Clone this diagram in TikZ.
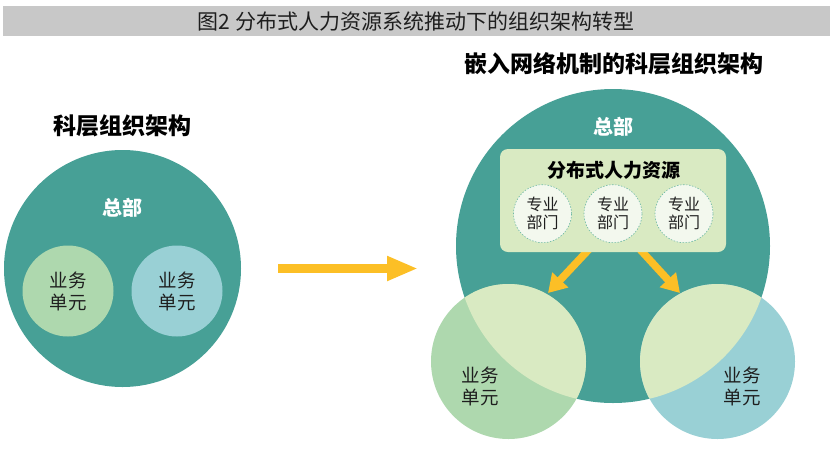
\documentclass[tikz,border=0pt]{standalone}
\usepackage{fontspec}
\setmainfont{Noto Sans CJK SC}
\usetikzlibrary{arrows.meta}
\definecolor{tealc}{RGB}{71,160,150}
\definecolor{lgreenc}{RGB}{217,234,194}
\definecolor{greenc}{RGB}{174,216,174}
\definecolor{bluec}{RGB}{153,208,213}
\definecolor{palec}{RGB}{243,248,238}
\definecolor{dashc}{RGB}{110,185,165}
\definecolor{arrowc}{RGB}{252,191,38}
\definecolor{barc}{RGB}{200,200,200}
\definecolor{txtc}{RGB}{30,30,30}
\tikzset{
  headtitle/.style={font=\bfseries\fontsize{23}{25}\selectfont, text=black, inner sep=0pt},
  hqtext/.style={font=\bfseries\fontsize{20}{22}\selectfont, text=white, inner sep=0pt},
  bucircle/.style={circle, inner sep=0pt, minimum size=#1, align=center,
    font=\fontsize{18.5}{22}\selectfont, text=txtc},
  butext/.style={align=center, inner sep=0pt, font=\fontsize{18.5}{22}\selectfont, text=txtc},
  deptcircle/.style={circle, inner sep=0pt, minimum size=58pt, align=center,
    fill=palec, draw=dashc, line width=0.6pt, dash pattern=on 1.5pt off 1.5pt,
    font=\fontsize{16}{18}\selectfont, text=txtc},
  bigarrow/.style={draw=arrowc, line width=9pt, -{Triangle[width=23pt,length=31pt,fill=arrowc]}},
  smallarrow/.style={draw=arrowc, line width=7.5pt, -{Triangle[width=21pt,length=18pt,fill=arrowc]}},
}
\begin{document}
\begin{tikzpicture}[x=1pt,y=-1pt]
\useasboundingbox (0,0) rectangle (836,459);
% title bar
\fill[barc] (3,6) rectangle (830,36);
\node[font=\fontsize{21}{23}\selectfont, text=txtc, inner sep=0pt] (title) at (416,22) {图2 分布式人力资源系统推动下的组织架构转型};

% left structure
\node[headtitle] (lt) at (122,126) {科层组织架构};
\node[circle, fill=tealc, minimum size=237pt, inner sep=0pt] (hq1) at (122.5,268.5) {};
\node[hqtext] (hq1t) at (122.7,208) {总部};
\node[bucircle=91pt, fill=greenc] (bu1) at (68,291) {业务\\单元};
\node[bucircle=91pt, fill=bluec] (bu2) at (177,291) {业务\\单元};

% transformation arrow
\coordinate (as) at (278,268.5);
\coordinate (ae) at (418,268.5);
\draw[bigarrow] (as) -- (ae);

% right structure
\node[headtitle] (rt) at (614,64) {嵌入网络机制的科层组织架构};
\node[circle, fill=tealc, minimum size=314pt, inner sep=0pt] (hq2) at (613,246) {};
\node[bucircle=155pt, fill=greenc] (bu3) at (508.5,361.5) {};
\node[bucircle=155pt, fill=bluec] (bu4) at (717.5,361.5) {};
\begin{scope}
  \clip (613,246) circle[radius=157pt];
  \fill[lgreenc] (508.5,361.5) circle[radius=77.5pt];
  \fill[lgreenc] (717.5,361.5) circle[radius=77.5pt];
\end{scope}
\node[butext] (bu3t) at (480,386) {业务\\单元};
\node[butext] (bu4t) at (742,386) {业务\\单元};
\node[hqtext] (hq2t) at (613,127) {总部};

% arrows from distributed HR to business units
\coordinate (a1s) at (593,245);
\coordinate (a1e) at (548,293);
\coordinate (a2s) at (636,245);
\coordinate (a2e) at (680,293);
\draw[smallarrow] (a1s) -- (a1e);
\draw[smallarrow] (a2s) -- (a2e);

% distributed HR box
\node[rounded corners=8pt, fill=lgreenc, minimum width=226pt, minimum height=103pt, inner sep=0pt] (dhr) at (613,200.5) {};
\node[font=\bfseries\fontsize{19}{21}\selectfont, text=black, inner sep=0pt] (dhrt) at (613.5,170) {分布式人力资源};
\node[deptcircle] (d1) at (542.5,213.7) {专业\\部门};
\node[deptcircle] (d2) at (613,213.7) {专业\\部门};
\node[deptcircle] (d3) at (684,213.7) {专业\\部门};
\end{tikzpicture}
\end{document}
